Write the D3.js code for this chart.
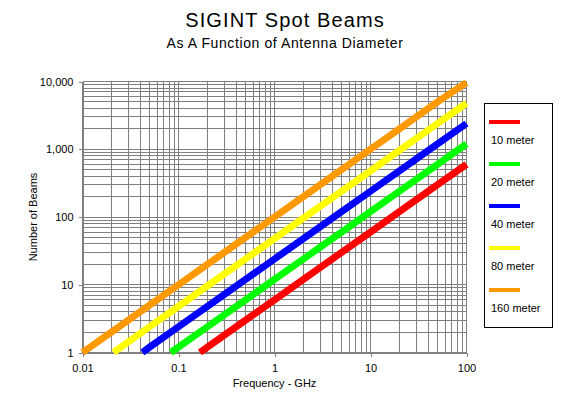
<!DOCTYPE html>
<html>
<head>
<meta charset="utf-8">
<script src="https://cdn.jsdelivr.net/npm/d3@7"></script>
<style>
  html, body { margin: 0; padding: 0; background: #fff; }
  svg { display: block; font-family: "Liberation Sans", Arial, sans-serif; }
</style>
</head>
<body>
<svg id="chart" width="567" height="399"></svg>
<script>
// ---- Data ----
const titleText = "SIGINT Spot Beams";
const subtitleText = "As A Function of Antenna Diameter";
const xAxisTitle = "Frequency - GHz";
const yAxisTitle = "Number of Beams";

const freqTicks = [0.01, 0.1, 1, 10, 100];
const freqTickLabels = ["0.01", "0.1", "1", "10", "100"];
const beamTicks = [1, 10, 100, 1000, 10000];
const beamTickLabels = ["1", "10", "100", "1,000", "10,000"];

const seriesNames = ["10 meter", "20 meter", "40 meter", "80 meter", "160 meter"];
const seriesColors = ["#ff0000", "#00ff00", "#0000ff", "#ffff00", "#ff9900"];

const freq10m  = [0.167, 0.2, 0.5, 1, 2, 5, 10, 20, 50, 100];
const beams10m = [1, 1.2, 3, 6, 12, 30, 60, 120, 300, 600];
const freq20m  = [0.083, 0.1, 0.2, 0.5, 1, 2, 5, 10, 20, 50, 100];
const beams20m = [1, 1.2, 2.4, 6, 12, 24, 60, 120, 240, 600, 1200];
const freq40m  = [0.042, 0.05, 0.1, 0.2, 0.5, 1, 2, 5, 10, 20, 50, 100];
const beams40m = [1, 1.2, 2.4, 4.8, 12, 24, 48, 120, 240, 480, 1200, 2400];
const freq80m  = [0.021, 0.05, 0.1, 0.2, 0.5, 1, 2, 5, 10, 20, 50, 100];
const beams80m = [1, 2.4, 4.8, 9.6, 24, 48, 96, 240, 480, 960, 2400, 4800];
const freq160m  = [0.01, 0.02, 0.05, 0.1, 0.2, 0.5, 1, 2, 5, 10, 20, 50, 100];
const beams160m = [1, 2, 5, 10, 20, 50, 100, 200, 500, 1000, 2000, 5000, 9600];

const seriesFreqs = [freq10m, freq20m, freq40m, freq80m, freq160m];
const seriesBeams = [beams10m, beams20m, beams40m, beams80m, beams160m];

// ---- Layout ----
const svg = d3.select("#chart");
const plot = { left: 82.5, right: 466.5, top: 81.5, bottom: 352.5 };
const gridColor = "#808080";

const x = d3.scaleLog().domain([0.01, 100]).range([plot.left, plot.right]);
const y = d3.scaleLog().domain([1, 10000]).range([plot.bottom, plot.top]);

// minor + major grid values
const xGrid = [];
for (let e = -2; e < 2; e++) for (let m = 1; m <= 9; m++) xGrid.push(m * Math.pow(10, e));
xGrid.push(100);
const yGrid = [];
for (let e = 0; e < 4; e++) for (let m = 1; m <= 9; m++) yGrid.push(m * Math.pow(10, e));
yGrid.push(10000);

const grid = svg.append("g").attr("shape-rendering", "crispEdges");
grid.selectAll("line.v").data(xGrid).join("line")
  .attr("x1", d => Math.round(x(d) - 0.5) + 0.5).attr("x2", d => Math.round(x(d) - 0.5) + 0.5)
  .attr("y1", plot.top).attr("y2", plot.bottom)
  .attr("stroke", gridColor).attr("stroke-width", 1);
grid.selectAll("line.h").data(yGrid).join("line")
  .attr("y1", d => Math.round(y(d) - 0.5) + 0.5).attr("y2", d => Math.round(y(d) - 0.5) + 0.5)
  .attr("x1", plot.left).attr("x2", plot.right)
  .attr("stroke", gridColor).attr("stroke-width", 1);

// axes
const xAxis = d3.axisBottom(x).tickValues(freqTicks)
  .tickFormat((d, i) => freqTickLabels[i]).tickSize(4).tickPadding(8);
const yAxis = d3.axisLeft(y).tickValues(beamTicks)
  .tickFormat((d, i) => beamTickLabels[i]).tickSize(4).tickPadding(5);

const gx = svg.append("g").attr("transform", `translate(0,${plot.bottom})`).call(xAxis);
const gy = svg.append("g").attr("transform", `translate(${plot.left},0)`).call(yAxis);
[gx, gy].forEach(g => {
  g.attr("shape-rendering", "crispEdges");
  g.select(".domain").attr("stroke", gridColor);
  g.selectAll(".tick line").attr("stroke", gridColor);
  g.selectAll(".tick text").attr("fill", "#000").attr("font-size", 11)
    .attr("font-family", "'Liberation Sans', Arial, sans-serif");
});

// series lines
const line = d3.line().x(d => x(d[0])).y(d => y(d[1]));
seriesNames.forEach((name, i) => {
  const pts = seriesFreqs[i].map((f, j) => [f, seriesBeams[i][j]]);
  svg.append("path")
    .datum(pts)
    .attr("d", line)
    .attr("fill", "none")
    .attr("stroke", seriesColors[i])
    .attr("stroke-width", 7)
    .attr("stroke-linecap", "butt")
    .attr("stroke-linejoin", "round");
});

// titles
svg.append("text").attr("x", 285).attr("y", 27).attr("text-anchor", "middle")
  .attr("font-size", 20).attr("letter-spacing", 1.1).text(titleText);
svg.append("text").attr("x", 285).attr("y", 48).attr("text-anchor", "middle")
  .attr("font-size", 14).attr("letter-spacing", 0.6).text(subtitleText);
svg.append("text").attr("x", (plot.left + plot.right) / 2).attr("y", 387)
  .attr("text-anchor", "middle").attr("font-size", 11).text(xAxisTitle);
svg.append("text")
  .attr("transform", `translate(37,${(plot.top + plot.bottom) / 2}) rotate(-90)`)
  .attr("text-anchor", "middle").attr("font-size", 11).text(yAxisTitle);

// legend
const legend = svg.append("g");
legend.append("rect").attr("x", 484.5).attr("y", 103.5).attr("width", 68).attr("height", 224)
  .attr("fill", "#fff").attr("stroke", "#000").attr("stroke-width", 1)
  .attr("shape-rendering", "crispEdges");
seriesNames.forEach((name, i) => {
  const yy = 122 + i * 42;
  legend.append("line").attr("x1", 489).attr("x2", 520).attr("y1", yy).attr("y2", yy)
    .attr("stroke", seriesColors[i]).attr("stroke-width", 4).attr("shape-rendering", "crispEdges");
  legend.append("text").attr("x", 491).attr("y", yy + 22).attr("font-size", 11).text(name);
});
</script>
</body>
</html>
